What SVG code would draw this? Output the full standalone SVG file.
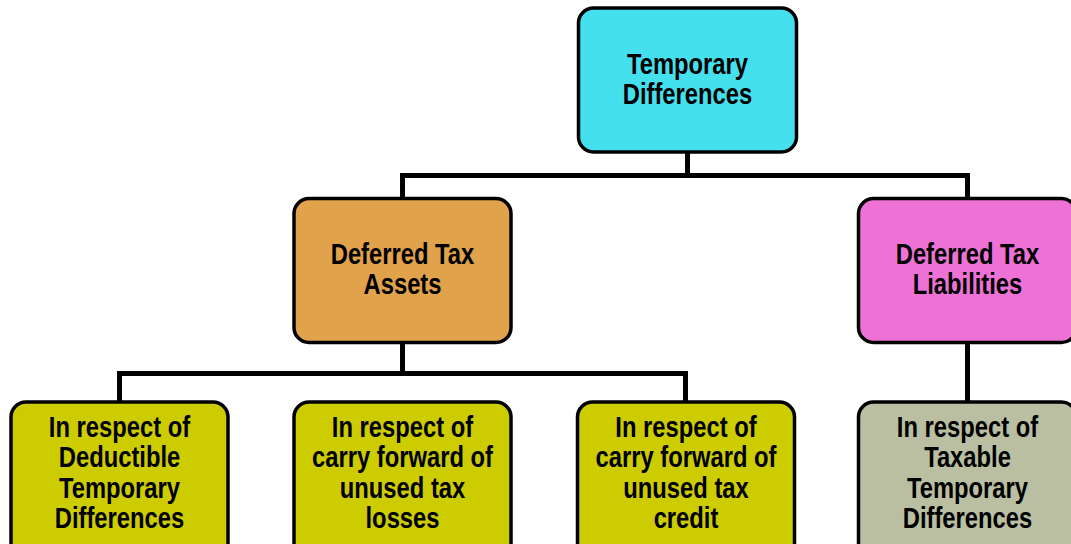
<svg xmlns="http://www.w3.org/2000/svg" width="1071" height="544" viewBox="0 0 1071 544">
<style>
.box{stroke:#000;stroke-width:3.5}
.lbl{font-family:"Liberation Sans",Arial,sans-serif;font-weight:bold;font-size:29px;fill:#000;text-anchor:middle}
.conn{fill:none;stroke:#000;stroke-width:5;stroke-linejoin:miter}
</style>
<rect width="1071" height="544" fill="#fff"/>
<g id="connectors">
<path class="conn" d="M687.5 152 V175.5"/>
<path class="conn" d="M402.5 198 V175.5 H967.5 V198"/>
<path class="conn" d="M402.5 343 V373.5"/>
<path class="conn" d="M119.5 402 V373.5 H685.5 V402"/>
<path class="conn" d="M967.5 343 V402"/>
</g>
<g id="temporary-differences">
<rect class="box" x="578.5" y="8" width="218" height="144" rx="15" fill="#44E0EE"/>
<g transform="translate(687.5 0) scale(0.82 1)">
<text class="lbl" x="0" y="74">Temporary</text>
<text class="lbl" x="0" y="104">Differences</text>
</g>
</g>
<g id="deferred-tax-assets">
<rect class="box" x="294" y="198.5" width="217" height="144" rx="15" fill="#E0A24A"/>
<g transform="translate(402.5 0) scale(0.82 1)">
<text class="lbl" x="0" y="264">Deferred Tax</text>
<text class="lbl" x="0" y="294">Assets</text>
</g>
</g>
<g id="deferred-tax-liabilities">
<rect class="box" x="858.5" y="198.5" width="218" height="144" rx="15" fill="#EE72D6"/>
<g transform="translate(967.5 0) scale(0.82 1)">
<text class="lbl" x="0" y="264">Deferred Tax</text>
<text class="lbl" x="0" y="294">Liabilities</text>
</g>
</g>
<g id="deductible-temporary-differences">
<rect class="box" x="11" y="402" width="217" height="160" rx="15" fill="#CCCC00"/>
<g transform="translate(119.5 0) scale(0.82 1)">
<text class="lbl" x="0" y="437">In respect of</text>
<text class="lbl" x="0" y="467.5">Deductible</text>
<text class="lbl" x="0" y="498">Temporary</text>
<text class="lbl" x="0" y="528">Differences</text>
</g>
</g>
<g id="unused-tax-losses">
<rect class="box" x="294" y="402" width="217" height="160" rx="15" fill="#CCCC00"/>
<g transform="translate(402.5 0) scale(0.82 1)">
<text class="lbl" x="0" y="437">In respect of</text>
<text class="lbl" x="0" y="467.5">carry forward of</text>
<text class="lbl" x="0" y="498">unused tax</text>
<text class="lbl" x="0" y="528">losses</text>
</g>
</g>
<g id="unused-tax-credit">
<rect class="box" x="577.5" y="402" width="217" height="160" rx="15" fill="#CCCC00"/>
<g transform="translate(686 0) scale(0.82 1)">
<text class="lbl" x="0" y="437">In respect of</text>
<text class="lbl" x="0" y="467.5">carry forward of</text>
<text class="lbl" x="0" y="498">unused tax</text>
<text class="lbl" x="0" y="528">credit</text>
</g>
</g>
<g id="taxable-temporary-differences">
<rect class="box" x="858.5" y="402" width="218" height="160" rx="15" fill="#B9BFA0"/>
<g transform="translate(967.5 0) scale(0.82 1)">
<text class="lbl" x="0" y="437">In respect of</text>
<text class="lbl" x="0" y="467.5">Taxable</text>
<text class="lbl" x="0" y="498">Temporary</text>
<text class="lbl" x="0" y="528">Differences</text>
</g>
</g>
</svg>
